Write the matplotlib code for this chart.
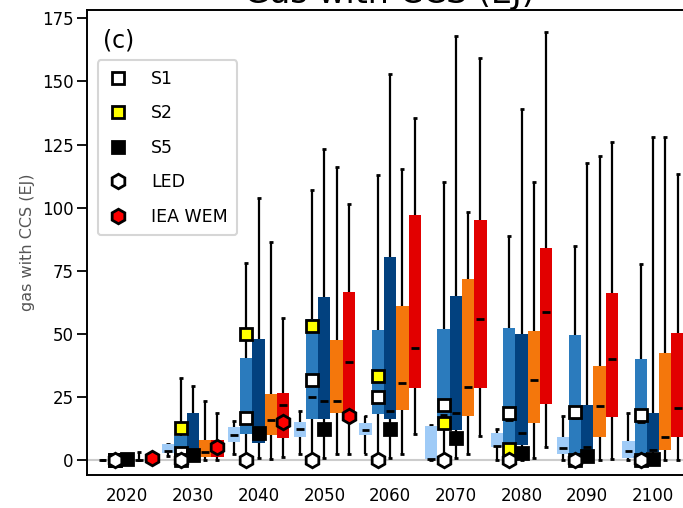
import numpy as np
import matplotlib.pyplot as plt

years = [2020, 2030, 2040, 2050, 2060, 2070, 2080, 2090, 2100]

# five-number summaries per year: (low whisker, q1, median, q3, high whisker)
light_blue = [(0, 0, 0, 0, 0), (1.7, 2.8, 3.7, 6.3, 6.5), (2.4, 7.0, 9.9, 13.2, 15.6),
              (2.6, 9.0, 12.5, 15.2, 19.4), (2.6, 9.9, 12.1, 14.5, 17.4), (0, 0.3, 0.3, 13.5, 14.0),
              (0, 5.3, 5.5, 10.8, 12.5), (0, 2.4, 4.6, 9.0, 17.3), (0, 0.9, 3.6, 7.5, 18.5)]
mid_blue = [(0, 0, 0, 0, 0), (0, 1.5, 3.0, 9.4, 32.5), (0, 10.3, 14.5, 40.5, 78.0),
            (0, 16.1, 24.8, 56.0, 107.0), (0, 18.2, 24.0, 51.4, 112.8), (0, 14.0, 18.0, 52.0, 110.3),
            (0, 2.0, 16.0, 52.4, 88.6), (0, 1.0, 16.5, 49.7, 84.8), (0, 1.0, 15.0, 40.2, 77.8)]
dark_blue = [(0, 0, 0, 0, 0), (0, 0.5, 2.0, 18.5, 29.4), (0.8, 6.6, 9.0, 47.8, 104.0),
             (0.7, 16.1, 23.3, 64.6, 123.3), (0.7, 16.1, 19.4, 80.5, 153.0), (0.7, 11.9, 18.5, 65.0, 167.8),
             (0, 5.9, 10.8, 50.1, 138.9), (0, 4.0, 5.0, 21.8, 117.5), (0, 3.3, 4.0, 18.5, 128.1)]
orange = [(0, 0, 0, 0, 3.3), (0, 1.3, 3.3, 7.9, 23.3), (0.5, 9.9, 15.8, 26.1, 86.4),
          (2.6, 18.5, 23.3, 47.5, 116.0), (2.6, 19.8, 30.6, 60.9, 115.3), (2.3, 17.4, 28.8, 71.9, 98.1),
          (0.9, 14.8, 31.9, 51.2, 110.2), (0, 9.2, 21.4, 37.3, 120.4), (0, 4.0, 9.2, 42.6, 128.1)]
red = [(0, 0, 0, 0.5, 1.0), (0, 1.3, 4.0, 7.9, 18.5), (1.3, 8.6, 22.0, 26.6, 56.3),
       (2.6, 18.5, 38.9, 66.4, 101.6), (10.2, 28.4, 44.2, 97.2, 135.6), (9.5, 28.4, 56.0, 95.2, 159.3),
       (5.3, 22.2, 58.7, 83.9, 169.5), (0.3, 17.2, 40.2, 66.0, 126.0), (0, 9.2, 20.5, 50.5, 113.5)]

# marker series
nan = np.nan
s1 = [0, 3.0, 16.5, 31.9, 25.1, 21.8, 18.7, 19.1, 17.8]
s2 = [nan, 12.9, 50.1, 53.2, 33.4, 14.5, 4.2, nan, nan]
s5 = [0.5, 2.0, 10.8, 12.5, 12.5, 8.8, 2.9, 1.5, 0.3]
s5_low = [0, 0, nan, nan, nan, nan, nan, 0, 0]
led = [0, 0, 0, 0, 0, 0, 0, 0, 0]
iea_wem = [0.7, 5.0, 14.9, 17.4, nan, nan, nan, nan, nan]

groups = [light_blue, mid_blue, dark_blue, orange, red]
colors = ['#9fcbf7', '#2b7bbd', '#02417f', '#f4770c', '#e20000']

step = 1.87
yrs = np.array(years, dtype=float)

fig = plt.figure(figsize=(6.83, 5.08), dpi=100)
ax = fig.add_axes([0.1274, 0.0650, 0.8865, 0.9154])

ax.axhline(0, color='#cccccc', lw=1.5, zorder=0)

for k, (data, col) in enumerate(zip(groups, colors)):
    d = np.array(data)
    x = yrs + (k - 2) * step
    ax.vlines(x, d[:, 0], d[:, 4], color='black', lw=1.6, zorder=2)
    ax.hlines(d[:, 0], x - 0.3, x + 0.3, color='black', lw=2, zorder=2)
    ax.hlines(d[:, 4], x - 0.3, x + 0.3, color='black', lw=2, zorder=2)
    ax.bar(x, d[:, 3] - d[:, 1], bottom=d[:, 1], width=step, color=col, lw=0, zorder=3)
    ax.hlines(d[:, 2], x - 0.6, x + 0.6, color='black', lw=2, zorder=4)

x2 = yrs - step
x3 = yrs
x5 = yrs + 2 * step
mk = dict(linestyle='none', markeredgecolor='black', markeredgewidth=2, zorder=6)
ax.plot(x2, s1, marker='s', ms=9, markerfacecolor='white', label='S1', **mk)
ax.plot(x2, s2, marker='s', ms=9, markerfacecolor='#ffff00', label='S2', **mk)
ax.plot(x2, s5_low, marker='s', ms=9, markerfacecolor='black', **mk)
ax.plot(x3, s5, marker='s', ms=9, markerfacecolor='black', label='S5', **mk)
ax.plot(x2, led, marker='h', ms=10.5, markerfacecolor='white', label='LED', **mk)
ax.plot(x5, iea_wem, marker='h', ms=10.5, markerfacecolor='#ff0000', label='IEA WEM', **mk)

ax.set_xlim(2013.9, 2106)
ax.set_ylim(-5.9, 178.3)
ax.set_xticks(years)
ax.set_xticklabels([str(y) for y in years])
ax.set_yticks([0, 25, 50, 75, 100, 125, 150, 175])
ax.tick_params(axis='x', length=0, pad=9, labelsize=12)
ax.tick_params(axis='y', length=7, width=1.3, pad=2.5, labelsize=12)
for sp in ax.spines.values():
    sp.set_linewidth(1.4)

ax.set_ylabel('gas with CCS (EJ)', fontsize=11.5, color='#555555', labelpad=5)
ax.set_title('Gas with CCS (EJ)', fontsize=24, pad=2)
ax.text(0.026, 0.96, '(c)', transform=ax.transAxes, fontsize=17, va='top', ha='left')

leg = ax.legend(loc='upper left', bbox_to_anchor=(0.018, 0.892), borderaxespad=0,
                fontsize=12.5, labelspacing=0.95, handlelength=1.2, handletextpad=1.3,
                borderpad=0.55, numpoints=1)
leg.get_frame().set_edgecolor('#cccccc')
leg.get_frame().set_linewidth(1.5)

plt.savefig('out.png', dpi=100)
